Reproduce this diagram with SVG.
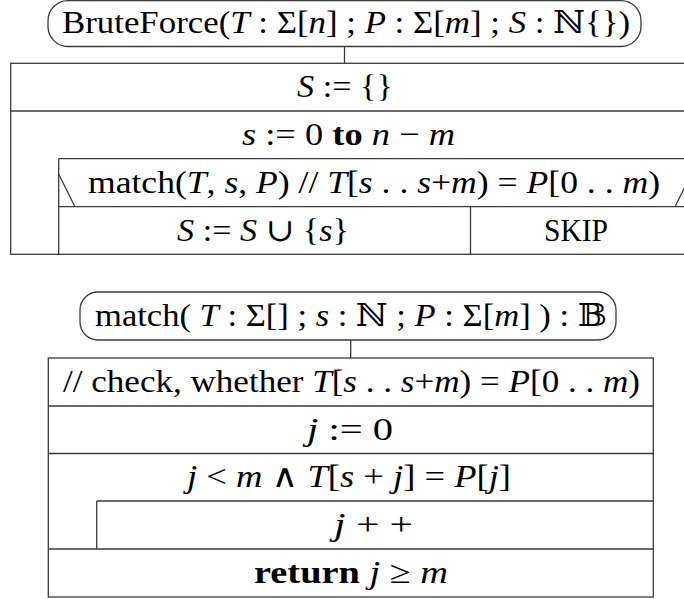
<svg xmlns="http://www.w3.org/2000/svg" width="684" height="599" viewBox="0 0 684 599">
<style>
  .ln { stroke: #3a3a3a; stroke-width: 1.3; fill: none; }
  .bx { stroke: #3a3a3a; stroke-width: 1.3; fill: #ffffff; }
  text { font-family: "Liberation Serif", "DejaVu Serif", "DejaVu Sans", serif; font-size: 32px; fill: #000; }
  .i { font-style: italic; }
  .b { font-weight: bold; }
</style>
<rect width="684" height="599" fill="#ffffff"/>

<g id="connectors">
  <line class="ln" x1="344.5" y1="46.5" x2="344.5" y2="63.3"/>
  <line class="ln" x1="350.7" y1="340" x2="350.7" y2="358"/>
</g>

<g id="bruteforce-head">
  <rect class="bx" x="48" y="0.7" width="593" height="45.8" rx="20" ry="20"/>
  <text x="62" y="33" textLength="568" lengthAdjust="spacingAndGlyphs">BruteForce(<tspan class="i">T</tspan> : Σ[<tspan class="i">n</tspan>] ; <tspan class="i">P</tspan> : Σ[<tspan class="i">m</tspan>] ; <tspan class="i">S</tspan> : ℕ{})</text>
</g>

<g id="bruteforce-body">
  <rect class="ln" x="10.7" y="63.3" width="676" height="191"/>
  <line class="ln" x1="10.7" y1="111" x2="690" y2="111"/>
  <line class="ln" x1="58.7" y1="158.7" x2="690" y2="158.7"/>
  <line class="ln" x1="58.7" y1="158.7" x2="58.7" y2="254.3"/>
  <line class="ln" x1="58.7" y1="206.7" x2="690" y2="206.7"/>
  <line class="ln" x1="58.7" y1="174" x2="75" y2="206.7"/>
  <line class="ln" x1="675" y1="206.7" x2="691.3" y2="174"/>
  <line class="ln" x1="470.5" y1="206.7" x2="470.5" y2="254.3"/>
</g>
<g id="init-S">
  <text x="297" y="97" textLength="96" lengthAdjust="spacingAndGlyphs"><tspan class="i">S</tspan> := {}</text>
</g>
<g id="loop-s">
  <text x="242" y="145" textLength="213" lengthAdjust="spacingAndGlyphs"><tspan class="i">s</tspan> := 0 <tspan class="b">to</tspan> <tspan class="i">n</tspan> − <tspan class="i">m</tspan></text>
</g>
<g id="cond-match">
  <text x="88" y="193" textLength="572" lengthAdjust="spacingAndGlyphs">match(<tspan class="i">T</tspan>, <tspan class="i">s</tspan>, <tspan class="i">P</tspan>) // <tspan class="i">T</tspan>[<tspan class="i">s</tspan> . . <tspan class="i">s</tspan>+<tspan class="i">m</tspan>) = <tspan class="i">P</tspan>[0 . . <tspan class="i">m</tspan>)</text>
</g>
<g id="then-add">
  <text x="177" y="241" textLength="172" lengthAdjust="spacingAndGlyphs"><tspan class="i">S</tspan> := <tspan class="i">S</tspan> ∪ {<tspan class="i">s</tspan>}</text>
</g>
<g id="else-skip">
  <text x="544" y="241" textLength="64" lengthAdjust="spacingAndGlyphs">SKIP</text>
</g>

<g id="match-head">
  <rect class="bx" x="80" y="292" width="536" height="48" rx="18" ry="18"/>
  <text x="95" y="326" textLength="512" lengthAdjust="spacingAndGlyphs">match( <tspan class="i">T</tspan> : Σ[] ; <tspan class="i">s</tspan> : ℕ ; <tspan class="i">P</tspan> : Σ[<tspan class="i">m</tspan>] ) : 𝔹</text>
</g>

<g id="match-body">
  <rect class="ln" x="48.3" y="358" width="605" height="239"/>
  <line class="ln" x1="48.3" y1="406" x2="653.3" y2="406"/>
  <line class="ln" x1="48.3" y1="453.5" x2="653.3" y2="453.5"/>
  <line class="ln" x1="96.7" y1="501" x2="653.3" y2="501"/>
  <line class="ln" x1="96.7" y1="501" x2="96.7" y2="549"/>
  <line class="ln" x1="48.3" y1="549" x2="653.3" y2="549"/>
</g>
<g id="comment">
  <text x="63" y="392" textLength="577" lengthAdjust="spacingAndGlyphs">// check, whether <tspan class="i">T</tspan>[<tspan class="i">s</tspan> . . <tspan class="i">s</tspan>+<tspan class="i">m</tspan>) = <tspan class="i">P</tspan>[0 . . <tspan class="i">m</tspan>)</text>
</g>
<g id="init-j">
  <text x="307" y="440" textLength="86" lengthAdjust="spacingAndGlyphs"><tspan class="i">j</tspan> := 0</text>
</g>
<g id="while-cond">
  <text x="187" y="487" textLength="324" lengthAdjust="spacingAndGlyphs"><tspan class="i">j</tspan> &lt; <tspan class="i">m</tspan> ∧ <tspan class="i">T</tspan>[<tspan class="i">s</tspan> + <tspan class="i">j</tspan>] = <tspan class="i">P</tspan>[<tspan class="i">j</tspan>]</text>
</g>
<g id="inc-j">
  <text x="334" y="535" textLength="79" lengthAdjust="spacingAndGlyphs"><tspan class="i">j</tspan> + +</text>
</g>
<g id="return">
  <text x="254" y="583" textLength="194" lengthAdjust="spacingAndGlyphs"><tspan class="b">return</tspan> <tspan class="i">j</tspan> ≥ <tspan class="i">m</tspan></text>
</g>
</svg>
